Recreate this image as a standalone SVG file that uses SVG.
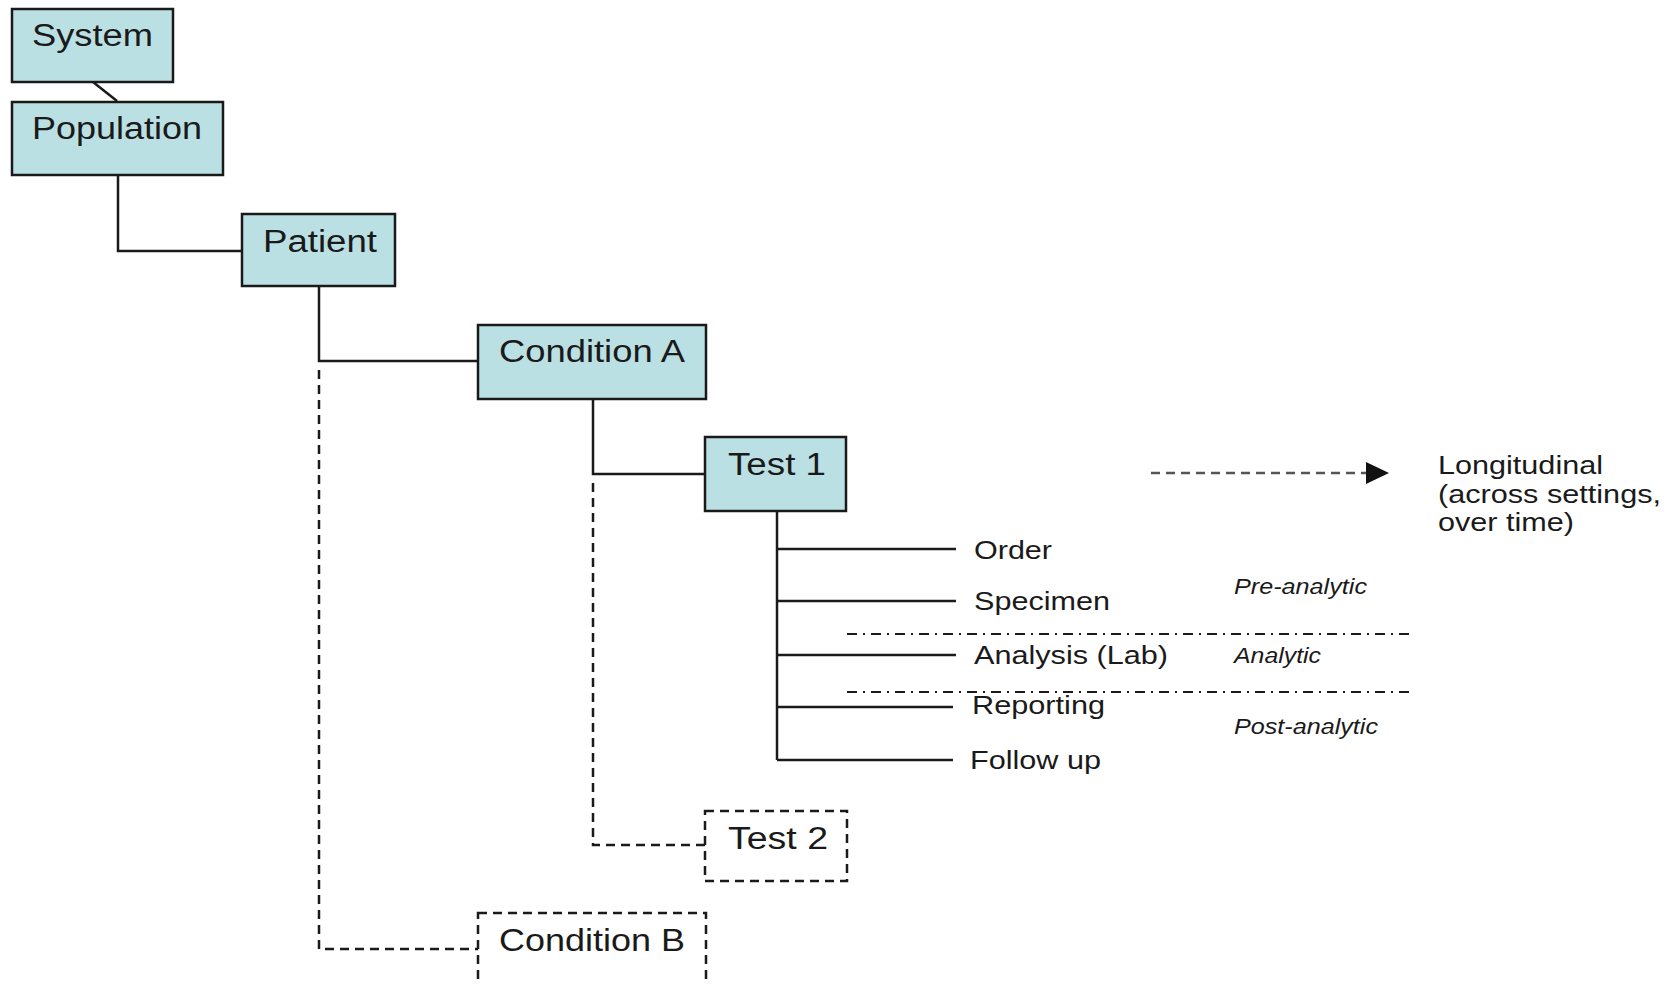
<svg xmlns="http://www.w3.org/2000/svg" width="1679" height="985" viewBox="0 0 1679 985">
<style>
.box{fill:#BBE0E3;stroke:#1a1a1a;stroke-width:2.5}
.dbox{fill:#fff;stroke:#1a1a1a;stroke-width:2.5;stroke-dasharray:9 6}
.lbl{font-family:"Liberation Sans",Arial,sans-serif;font-size:31px;fill:#1a1a1a}
.item{font-family:"Liberation Sans",Arial,sans-serif;font-size:26px;fill:#1a1a1a}
.ital{font-family:"Liberation Sans",Arial,sans-serif;font-size:22px;font-style:italic;fill:#1a1a1a}
.ln{fill:none;stroke:#1a1a1a;stroke-width:2.5}
.dash{fill:none;stroke:#1a1a1a;stroke-width:2.5;stroke-dasharray:9 6}
.dd{fill:none;stroke:#1a1a1a;stroke-width:2;stroke-dasharray:10 6 2 6}
.arr{fill:none;stroke:#555;stroke-width:2.5;stroke-dasharray:9 6}
</style>
<defs>
<marker id="ah" viewBox="0 0 10 10" refX="10" refY="5" markerWidth="22" markerHeight="22" markerUnits="userSpaceOnUse" orient="auto">
<path d="M0,0 L10,5 L0,10 Z" fill="#111"/>
</marker>
</defs>
<rect width="1679" height="985" fill="#fff"/>
<g id="connectors">
<line class="ln" x1="93" y1="82" x2="117" y2="101" stroke="#444"/>
<polyline class="ln" points="118,175 118,251 242,251"/>
<polyline class="ln" points="319,286 319,361 478,361"/>
<polyline class="ln" points="593,399 593,474 705,474"/>
<polyline class="dash" points="319,370 319,949 478,949"/>
<polyline class="dash" points="593,483 593,845 705,845"/>
<line class="ln" x1="777" y1="511" x2="777" y2="760"/>
<line class="ln" x1="777" y1="549" x2="956" y2="549"/>
<line class="ln" x1="777" y1="601" x2="956" y2="601"/>
<line class="ln" x1="777" y1="655" x2="956" y2="655"/>
<line class="ln" x1="777" y1="707" x2="953" y2="707"/>
<line class="ln" x1="777" y1="760" x2="953" y2="760"/>
<line class="dd" x1="847" y1="634" x2="1409" y2="634"/>
<line class="dd" x1="847" y1="692" x2="1409" y2="692"/>
<line class="arr" x1="1151" y1="473" x2="1370" y2="473"/>
<path d="M1366,462 L1389,473 L1366,484 Z" fill="#111"/>
</g>
<g id="system">
<rect class="box" x="12" y="9" width="161" height="73"/>
<text class="lbl" x="32" y="46" textLength="121" lengthAdjust="spacingAndGlyphs">System</text>
</g>
<g id="population">
<rect class="box" x="12" y="102" width="211" height="73"/>
<text class="lbl" x="32" y="139" textLength="170" lengthAdjust="spacingAndGlyphs">Population</text>
</g>
<g id="patient">
<rect class="box" x="242" y="214" width="153" height="72"/>
<text class="lbl" x="263" y="252" textLength="114" lengthAdjust="spacingAndGlyphs">Patient</text>
</g>
<g id="conditionA">
<rect class="box" x="478" y="325" width="228" height="74"/>
<text class="lbl" x="499" y="362" textLength="186" lengthAdjust="spacingAndGlyphs">Condition A</text>
</g>
<g id="test1">
<rect class="box" x="705" y="437" width="141" height="74"/>
<text class="lbl" x="728" y="475" textLength="98" lengthAdjust="spacingAndGlyphs">Test 1</text>
</g>
<g id="test2">
<rect class="dbox" x="705" y="811" width="142" height="70"/>
<text class="lbl" x="728" y="849" textLength="100" lengthAdjust="spacingAndGlyphs">Test 2</text>
</g>
<g id="conditionB">
<rect class="dbox" x="478" y="913" width="228" height="90"/>
<text class="lbl" x="499" y="951" textLength="186" lengthAdjust="spacingAndGlyphs">Condition B</text>
</g>
<g id="steps">
<text class="item" x="974" y="559" textLength="78" lengthAdjust="spacingAndGlyphs">Order</text>
<text class="item" x="974" y="610" textLength="136" lengthAdjust="spacingAndGlyphs">Specimen</text>
<text class="item" x="974" y="664" textLength="194" lengthAdjust="spacingAndGlyphs">Analysis (Lab)</text>
<text class="item" x="972" y="714" textLength="133" lengthAdjust="spacingAndGlyphs">Reporting</text>
<text class="item" x="970" y="769" textLength="131" lengthAdjust="spacingAndGlyphs">Follow up</text>
</g>
<g id="phases">
<text class="ital" x="1234" y="594" textLength="133" lengthAdjust="spacingAndGlyphs">Pre-analytic</text>
<text class="ital" x="1234" y="663" textLength="87" lengthAdjust="spacingAndGlyphs">Analytic</text>
<text class="ital" x="1234" y="734" textLength="144" lengthAdjust="spacingAndGlyphs">Post-analytic</text>
</g>
<g id="longitudinal">
<text class="item" x="1438" y="474" textLength="165" lengthAdjust="spacingAndGlyphs">Longitudinal</text>
<text class="item" x="1438" y="503" textLength="223" lengthAdjust="spacingAndGlyphs">(across settings,</text>
<text class="item" x="1438" y="531" textLength="136" lengthAdjust="spacingAndGlyphs">over time)</text>
</g>
</svg>
